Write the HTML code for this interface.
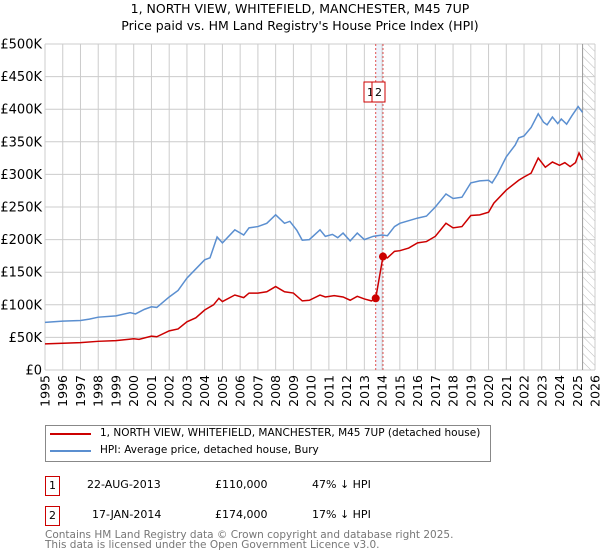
<!DOCTYPE html>
<html><head><meta charset="utf-8"><style>
body{margin:0;background:#fff;font-family:"DejaVu Sans","Liberation Sans",sans-serif;}
#wrap{position:relative;width:600px;height:560px;overflow:hidden}
.t{position:absolute;font-size:12px;color:#000;white-space:nowrap}
</style></head><body><div id="wrap">
<div class="t" style="left:0;width:600px;text-align:center;top:1px;font-size:12.5px">1, NORTH VIEW, WHITEFIELD, MANCHESTER, M45 7UP</div>
<div class="t" style="left:0;width:600px;text-align:center;top:18px;font-size:12.5px">Price paid vs. HM Land Registry's House Price Index (HPI)</div>
<svg id="c" width="600" height="420" style="position:absolute;left:0;top:0"></svg>
<div style="position:absolute;left:45px;top:425px;width:444px;height:35px;border:1px solid #888;"></div>
<div style="position:absolute;left:50px;top:433px;width:41px;height:2px;background:#cc0000"></div>
<div class="t" style="left:100px;top:427px;font-size:10.5px">1, NORTH VIEW, WHITEFIELD, MANCHESTER, M45 7UP (detached house)</div>
<div style="position:absolute;left:50px;top:450px;width:41px;height:2px;background:#5b8fd0"></div>
<div class="t" style="left:100px;top:444px;font-size:10.5px">HPI: Average price, detached house, Bury</div>
<div class="t" style="left:45px;top:476px;width:13px;height:18px;border:1px solid #c00;text-align:center;font-size:11px;line-height:18px">1</div>
<div class="t" style="left:87px;top:476px;font-size:11px;line-height:18px">22-AUG-2013</div>
<div class="t" style="left:215px;top:476px;font-size:11px;line-height:18px">£110,000</div>
<div class="t" style="left:312px;top:476px;font-size:11px;line-height:18px">47% ↓ HPI</div>
<div class="t" style="left:45px;top:506px;width:13px;height:18px;border:1px solid #c00;text-align:center;font-size:11px;line-height:18px">2</div>
<div class="t" style="left:92px;top:506px;font-size:11px;line-height:18px">17-JAN-2014</div>
<div class="t" style="left:215px;top:506px;font-size:11px;line-height:18px">£174,000</div>
<div class="t" style="left:312px;top:506px;font-size:11px;line-height:18px">17% ↓ HPI</div>
<div class="t" style="left:45px;top:530px;font-size:10.5px;color:#777;line-height:10px">Contains HM Land Registry data © Crown copyright and database right 2025.<br>This data is licensed under the Open Government Licence v3.0.</div>
</div>
<script>
const yTicks=[0,50,100,150,200,250,300,350,400,450,500];
const yTickLabels=["£0","£50K","£100K","£150K","£200K","£250K","£300K","£350K","£400K","£450K","£500K"];
const years=[1995,1996,1997,1998,1999,2000,2001,2002,2003,2004,2005,2006,2007,2008,2009,2010,2011,2012,2013,2014,2015,2016,2017,2018,2019,2020,2021,2022,2023,2024,2025,2026];
const hpiT=[1995,1996,1997,1997.5,1998,1999,1999.8,2000.1,2000.6,2001,2001.3,2002,2002.5,2003,2003.5,2004,2004.3,2004.7,2005,2005.7,2006.2,2006.5,2007,2007.5,2008,2008.5,2008.8,2009.2,2009.5,2009.9,2010.5,2010.8,2011.2,2011.5,2011.8,2012.2,2012.6,2013,2013.5,2014,2014.3,2014.7,2015,2015.5,2016,2016.5,2017,2017.6,2018,2018.5,2019,2019.5,2020,2020.2,2020.5,2021,2021.5,2021.7,2022,2022.4,2022.8,2023.1,2023.3,2023.6,2023.9,2024.1,2024.4,2024.7,2025.05,2025.3];
const hpiV=[73,75,76,78,81,83,88,86,93,97,96,112,122,141,155,169,172,204,195,215,207,218,220,225,238,225,228,214,199,200,215,205,208,203,210,198,210,200,205,207,206,220,225,229,233,236,250,270,263,265,287,290,291,287,300,327,345,356,359,372,393,380,376,388,378,385,377,390,404,395];
const redT=[1995,1996,1997,1998,1999,2000,2000.3,2001,2001.3,2002,2002.5,2003,2003.5,2004,2004.5,2004.8,2005,2005.7,2006.2,2006.5,2007,2007.5,2008,2008.5,2009,2009.5,2009.9,2010.5,2010.8,2011.3,2011.8,2012.2,2012.6,2013,2013.4,2013.64,2014.05,2014.3,2014.7,2015,2015.5,2016,2016.5,2017,2017.6,2018,2018.5,2019,2019.5,2020,2020.3,2021,2021.7,2022,2022.4,2022.8,2023.2,2023.6,2024,2024.3,2024.6,2024.9,2025.1,2025.3];
const redV=[40,41,42,44,45,48,47,52,51,60,63,74,80,92,100,110,105,115,111,118,118,120,128,120,118,106,107,115,112,114,112,107,113,109,106,110,174,172,182,183,187,195,197,205,225,218,220,237,238,242,256,276,291,296,302,325,311,319,314,318,312,318,333,322];
const sales=[[2013.64,110],[2014.05,174]];
const X0=45,X1=595,Y0=370,Y1=44;
const sx=t=>X0+(t-1995)*(X1-X0)/31, sy=v=>Y0-v*(Y0-Y1)/500;
const svg=document.getElementById('c'),NS='http://www.w3.org/2000/svg';
function mk(tag,a,p){const e=document.createElementNS(NS,tag);for(const k in a)e.setAttribute(k,a[k]);(p||svg).appendChild(e);return e;}
const defs=mk('defs',{});
const pat=mk('pattern',{id:'h',width:6,height:6,patternUnits:'userSpaceOnUse',patternTransform:'rotate(-45)'},defs);
mk('line',{x1:0,y1:0,x2:0,y2:6,stroke:'#bbb','stroke-width':1},pat);
let r=mk('rect',{x:sx(2013.64),y:Y1,width:sx(2014.05)-sx(2013.64),height:Y0-Y1,fill:'#eef3fc'});


r=mk('rect',{x:sx(2025.3),y:Y1,width:X1-sx(2025.3),height:Y0-Y1,fill:'url(#h)'});


yTicks.forEach((v,i)=>{
 const l=mk('line',{x1:X0,x2:X1,y1:sy(v),y2:sy(v),stroke:'#ccc'});
 
 
 const t=mk('text',{x:X0-3,y:sy(v)+4.5,'text-anchor':'end','font-size':13,'font-family':'DejaVu Sans,sans-serif'});
 t.textContent=yTickLabels[i];
 
 
});
years.forEach(y=>{
 const l=mk('line',{x1:sx(y),x2:sx(y),y1:Y1,y2:Y0,stroke:'#ccc'});
 
 
 const tx=sx(y)+4.5, ty=375;
 const t=mk('text',{x:tx,y:ty,'text-anchor':'end','font-size':12.5,'font-family':'DejaVu Sans,sans-serif',transform:'rotate(-90 '+tx+' '+ty+')'});
 t.textContent=y;
 
 
});
let l=mk('line',{x1:sx(2025.3),x2:sx(2025.3),y1:Y1,y2:Y0,stroke:'#999'});


sales.forEach((s,i)=>{
 const d=mk('line',{x1:sx(s[0]),x2:sx(s[0]),y1:Y1,y2:Y0,stroke:'#e05050','stroke-dasharray':'2,2'});
 
 
});
const hp=mk('polyline',{points:hpiT.map((t,i)=>sx(t)+','+sy(hpiV[i])).join(' '),fill:'none',stroke:'#5b8fd0','stroke-width':1.5});


const rp=mk('polyline',{points:redT.map((t,i)=>sx(t)+','+sy(redV[i])).join(' '),fill:'none',stroke:'#cc0000','stroke-width':1.5});


sales.forEach((s,i)=>{
 const c=mk('circle',{cx:sx(s[0]),cy:sy(s[1]),r:4,fill:'#cc0000'});
 
 
});
[[364,'1'],[372,'2']].forEach(b=>{
 const g=mk('rect',{x:b[0],y:82,width:13,height:20,fill:'#fff',stroke:'#c00'});
 
 
 const t=mk('text',{x:b[0]+6.5,y:96,'text-anchor':'middle','font-size':11,'font-family':'DejaVu Sans,sans-serif'});
 t.textContent=b[1];
 
 
});
</script></body></html>
